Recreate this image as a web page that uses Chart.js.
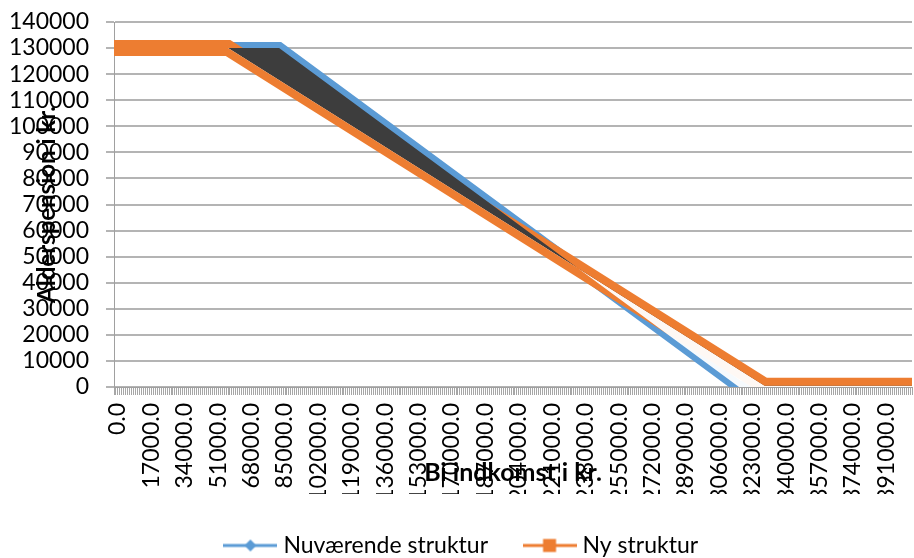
<!DOCTYPE html>
<html>
<head>
<meta charset="utf-8">
<script src="https://cdn.jsdelivr.net/npm/chart.js@4"></script>
<style>
html,body{margin:0;padding:0;background:#ffffff;}
#wrap{width:914px;height:558px;position:relative;}
</style>
</head>
<body>
<div id="wrap"><canvas id="c" width="914" height="558"></canvas></div>
<script>
// ---- data ----
const nuvIncome  = [0, 82000, 316000, 404000];
const nuvPension = [130000, 130000, 0, 0];
const nyIncome   = [0, 56000, 329000, 404000];
const nyPension  = [130000, 130000, 500, 500];
const xTickLabels = [0, 17000, 34000, 51000, 68000, 85000, 102000, 119000, 136000, 153000,
  170000, 187000, 204000, 221000, 238000, 255000, 272000, 289000, 306000, 323000,
  340000, 357000, 374000, 391000];
const yTickLabels = [0, 10000, 20000, 30000, 40000, 50000, 60000, 70000, 80000, 90000,
  100000, 110000, 120000, 130000, 140000];
const seriesNames = ['Nuværende struktur', 'Ny struktur'];
const xTitle = 'Bi indkomst i kr.';
const yTitle = 'Alderspension i kr.';

const BLUE = '#5B9BD5';
const ORANGE = '#ED7D31';

function pts(xs, ys) { return xs.map((x, i) => ({x: x, y: ys[i]})); }

function markerImg(color, shape) {
  const c = document.createElement('canvas');
  c.width = 54; c.height = 16;
  const g = c.getContext('2d');
  g.strokeStyle = color; g.lineWidth = 3;
  g.beginPath(); g.moveTo(0, 8); g.lineTo(54, 8); g.stroke();
  g.fillStyle = color;
  if (shape === 'diamond') {
    g.beginPath(); g.moveTo(27, 2); g.lineTo(33, 8); g.lineTo(27, 14); g.lineTo(21, 8); g.closePath(); g.fill();
  } else {
    g.fillRect(20.5, 1.5, 13, 13);
  }
  return c;
}

// nudges the legend block sideways to where the reference centres it
const legendShift = {
  id: 'legendShift',
  afterLayout: function (chart) {
    if (chart.legend) { chart.legend.left += 7.5; chart.legend.right += 7.5; }
  }
};

function draw() {
  const blueImg = markerImg(BLUE, 'diamond');
  const orangeImg = markerImg(ORANGE, 'square');
  Chart.defaults.font.family = 'Lato, "Open Sans", sans-serif';
  Chart.defaults.color = '#000000';

  new Chart(document.getElementById('c'), {
    type: 'line',
    plugins: [legendShift],
    data: {
      datasets: [
        {
          label: seriesNames[0],
          data: pts(nuvIncome, nuvPension),
          borderColor: BLUE,
          borderWidth: 12,
          pointRadius: 0,
          fill: false,
          order: 2
        },
        {
          label: seriesNames[1],
          data: pts(nyIncome, nyPension),
          borderColor: ORANGE,
          borderWidth: 16,
          pointRadius: 0,
          fill: false,
          order: 1
        },
        {
          label: 'band',
          data: pts(nuvIncome, nuvPension),
          borderColor: 'rgba(0,0,0,0)',
          borderWidth: 1,
          pointRadius: 0,
          fill: {target: 1, above: '#3d3d3d', below: 'rgba(255,255,255,0.95)'},
          order: 0
        }
      ]
    },
    options: {
      responsive: false,
      animation: false,
      events: [],
      layout: {padding: {top: 22, right: 2, bottom: -9, left: 0}},
      elements: {
        line: {tension: 0, borderJoinStyle: 'miter', borderCapStyle: 'square'},
        point: {radius: 0}
      },
      plugins: {
        tooltip: {enabled: false},
        legend: {
          position: 'bottom',
          labels: {
            usePointStyle: true,
            pointStyleWidth: 43,
            padding: 40,
            color: '#000000',
            font: {family: 'Lato', size: 23},
            generateLabels: function () {
              return [
                {text: seriesNames[0], pointStyle: blueImg, fillStyle: BLUE, strokeStyle: BLUE, lineWidth: 0, hidden: false, datasetIndex: 0, fontColor: '#000000'},
                {text: seriesNames[1], pointStyle: orangeImg, fillStyle: ORANGE, strokeStyle: ORANGE, lineWidth: 0, hidden: false, datasetIndex: 1, fontColor: '#000000'}
              ];
            }
          }
        }
      },
      scales: {
        x: {
          type: 'linear',
          min: -2000,
          max: 404000,
          afterFit: function (s) { s.height = 107; s.paddingLeft = 0; s.paddingRight = 0; },
          ticks: {
            stepSize: 1000,
            autoSkip: false,
            minRotation: 90,
            maxRotation: 90,
            padding: 8,
            color: '#000000',
            font: {family: 'Lato', size: 23},
            callback: function (v) { return xTickLabels.includes(v) ? Number(v).toFixed(1) : ''; }
          },
          grid: {display: true, drawOnChartArea: false, drawTicks: true, tickLength: 8, color: '#a6a6a6', lineWidth: 1},
          border: {display: true, color: '#a0a0a0', width: 1},
          title: {display: true, text: xTitle, color: '#000000', font: {family: 'Lato', size: 25, weight: 'bold'}, padding: {top: 0, bottom: 6}}
        },
        y: {
          min: 0,
          max: 140000,
          afterFit: function (s) { s.width = 114; s.paddingTop = 0; s.paddingBottom = 0; },
          afterBuildTicks: function (s) { s.ticks = yTickLabels.map(v => ({value: v})); },
          ticks: {
            stepSize: 10000,
            autoSkip: false,
            padding: 17,
            color: '#000000',
            font: {family: 'Lato', size: 23},
            callback: function (v) { return String(v); }
          },
          grid: {color: '#b4b4b4', lineWidth: 2, tickLength: 8, drawTicks: true},
          border: {display: true, color: '#a0a0a0', width: 1},
          title: {display: true, text: yTitle, color: '#000000', font: {family: 'Lato', size: 24, weight: 'bold'}, padding: {top: 32.6, bottom: 0}}
        }
      }
    }
  });
}

if (document.fonts && document.fonts.load) {
  Promise.all([document.fonts.load('23px Lato'), document.fonts.load('bold 24px Lato')]).then(draw, draw);
} else {
  draw();
}
</script>
</body>
</html>
